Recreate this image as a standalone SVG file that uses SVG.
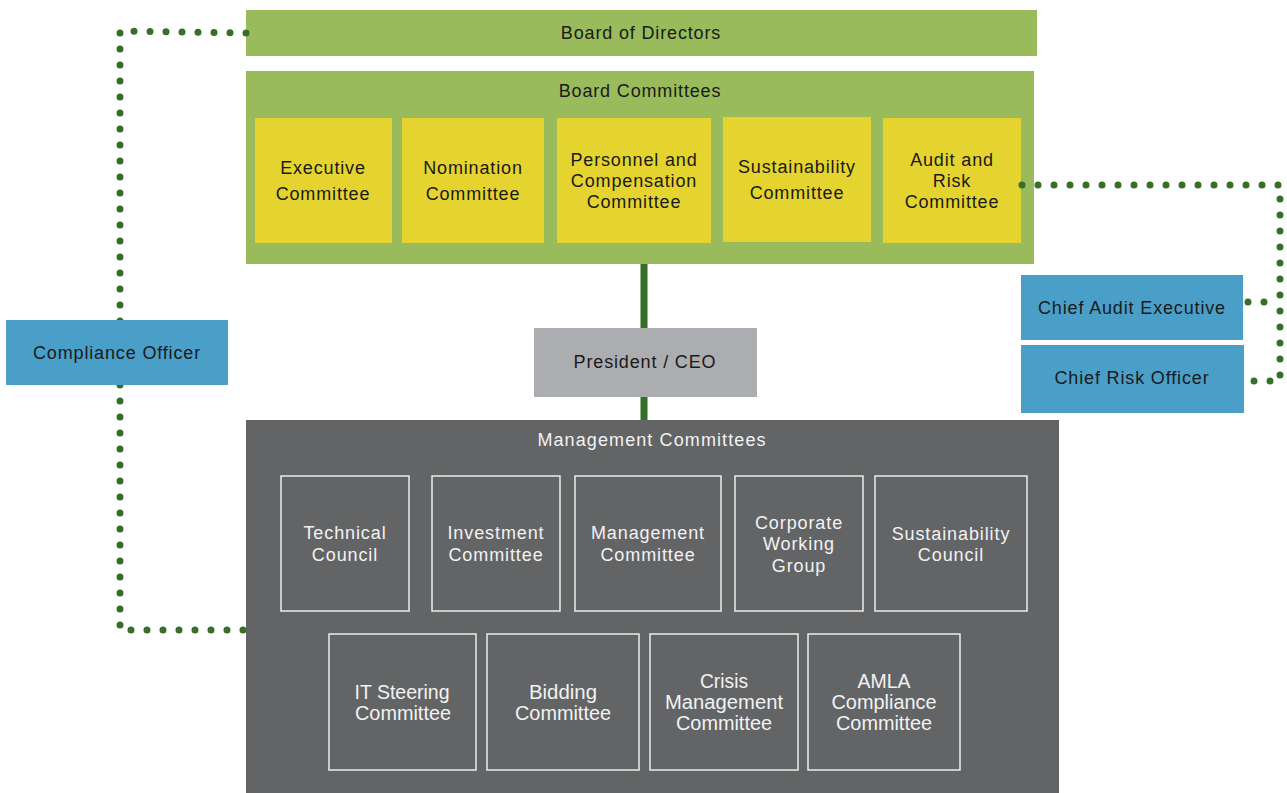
<svg xmlns="http://www.w3.org/2000/svg" width="1287" height="793" viewBox="0 0 1287 793">
<style>
text{font-family:"Liberation Sans",Arial,sans-serif;text-anchor:middle;}
.dk{fill:#1a1a1a;font-size:18px;letter-spacing:0.85px;}
.wt{fill:#f2f2f2;font-size:18px;letter-spacing:0.9px;}
.nw{fill:#f2f2f2;font-size:19.5px;}
.green{fill:#99bb5b;}
.yel{fill:#e5d42f;}
.blue{fill:#4a9fc8;}
.mbox{fill:none;stroke:#ececec;stroke-width:1.5;}
.dot{fill:none;stroke:#386f28;stroke-width:7;stroke-linecap:round;stroke-dasharray:0 16;}
</style>
<g id="board">
<rect class="green" x="246" y="10" width="791" height="46"/>
<text class="dk" x="641" y="39">Board of Directors</text>
</g>
<g id="board-committees">
<rect class="green" x="246" y="71" width="788" height="193"/>
<text class="dk" x="640" y="97">Board Committees</text>
</g>
<g id="exec">
<rect class="yel" x="255" y="118" width="137" height="125"/>
<text class="dk" x="323" y="174">Executive</text><text class="dk" x="323" y="200">Committee</text>
</g>
<g id="nomination">
<rect class="yel" x="402" y="118" width="142" height="125"/>
<text class="dk" x="473" y="174">Nomination</text><text class="dk" x="473" y="200">Committee</text>
</g>
<g id="personnel">
<rect class="yel" x="557" y="118" width="154" height="125"/>
<text class="dk" x="634" y="166">Personnel and</text><text class="dk" x="634" y="187">Compensation</text><text class="dk" x="634" y="208">Committee</text>
</g>
<g id="sustainability">
<rect class="yel" x="723" y="117" width="148" height="125"/>
<text class="dk" x="797" y="173">Sustainability</text><text class="dk" x="797" y="199">Committee</text>
</g>
<g id="audit">
<rect class="yel" x="883" y="118" width="138" height="125"/>
<text class="dk" x="952" y="166">Audit and</text><text class="dk" x="952" y="187">Risk</text><text class="dk" x="952" y="208">Committee</text>
</g>
<g id="connectors">
<path class="dot" d="M246,33 L120,31 L120,630 L246,630"/>
<path class="dot" d="M1022,185 L1280,185 L1280,381 L1246,381"/>
<path class="dot" d="M1248,302 L1266,302"/>
<path d="M644,264 L644,328 M644,397 L644,420" stroke="#356e26" stroke-width="7" fill="none"/>
</g>
<g id="ceo">
<rect fill="#acadb0" x="534" y="328" width="223" height="69"/>
<text class="dk" x="645" y="368">President / CEO</text>
</g>
<g id="compliance">
<rect class="blue" x="6" y="320" width="222" height="65"/>
<text class="dk" x="117" y="359">Compliance Officer</text>
</g>
<g id="cae">
<rect class="blue" x="1021" y="275" width="222" height="65"/>
<text class="dk" x="1132" y="314">Chief Audit Executive</text>
</g>
<g id="cro">
<rect class="blue" x="1021" y="345" width="223" height="68"/>
<text class="dk" x="1132" y="384">Chief Risk Officer</text>
</g>
<g id="mgmt">
<rect fill="#636466" x="246" y="420" width="813" height="373"/>
<text class="wt" x="652" y="446" style="letter-spacing:1.1px">Management Committees</text>
</g>
<g id="technical">
<rect class="mbox" x="281" y="476" width="128" height="135"/>
<text class="wt" x="345" y="539">Technical</text><text class="wt" x="345" y="561">Council</text>
</g>
<g id="investment">
<rect class="mbox" x="432" y="476" width="128" height="135"/>
<text class="wt" x="496" y="539">Investment</text><text class="wt" x="496" y="561">Committee</text>
</g>
<g id="management">
<rect class="mbox" x="575" y="476" width="146" height="135"/>
<text class="wt" x="648" y="539">Management</text><text class="wt" x="648" y="561">Committee</text>
</g>
<g id="corporate">
<rect class="mbox" x="735" y="476" width="128" height="135"/>
<text class="wt" x="799" y="529">Corporate</text><text class="wt" x="799" y="550">Working</text><text class="wt" x="799" y="572">Group</text>
</g>
<g id="sust-council">
<rect class="mbox" x="875" y="476" width="152" height="135"/>
<text class="wt" x="951" y="540">Sustainability</text><text class="wt" x="951" y="561">Council</text>
</g>
<g id="it">
<rect class="mbox" x="329" y="634" width="147" height="136"/>
<text class="nw" x="402" y="699" textLength="95" lengthAdjust="spacingAndGlyphs">IT Steering</text><text class="nw" x="403" y="720" textLength="96" lengthAdjust="spacingAndGlyphs">Committee</text>
</g>
<g id="bidding">
<rect class="mbox" x="487" y="634" width="152" height="136"/>
<text class="nw" x="563" y="699" textLength="68" lengthAdjust="spacingAndGlyphs">Bidding</text><text class="nw" x="563" y="720" textLength="96" lengthAdjust="spacingAndGlyphs">Committee</text>
</g>
<g id="crisis">
<rect class="mbox" x="650" y="634" width="148" height="136"/>
<text class="nw" x="724" y="688" textLength="48" lengthAdjust="spacingAndGlyphs">Crisis</text><text class="nw" x="724" y="709" textLength="118" lengthAdjust="spacingAndGlyphs">Management</text><text class="nw" x="724" y="730" textLength="96" lengthAdjust="spacingAndGlyphs">Committee</text>
</g>
<g id="amla">
<rect class="mbox" x="808" y="634" width="152" height="136"/>
<text class="nw" x="884" y="688" textLength="53" lengthAdjust="spacingAndGlyphs">AMLA</text><text class="nw" x="884" y="709" textLength="105" lengthAdjust="spacingAndGlyphs">Compliance</text><text class="nw" x="884" y="730" textLength="96" lengthAdjust="spacingAndGlyphs">Committee</text>
</g>
</svg>
